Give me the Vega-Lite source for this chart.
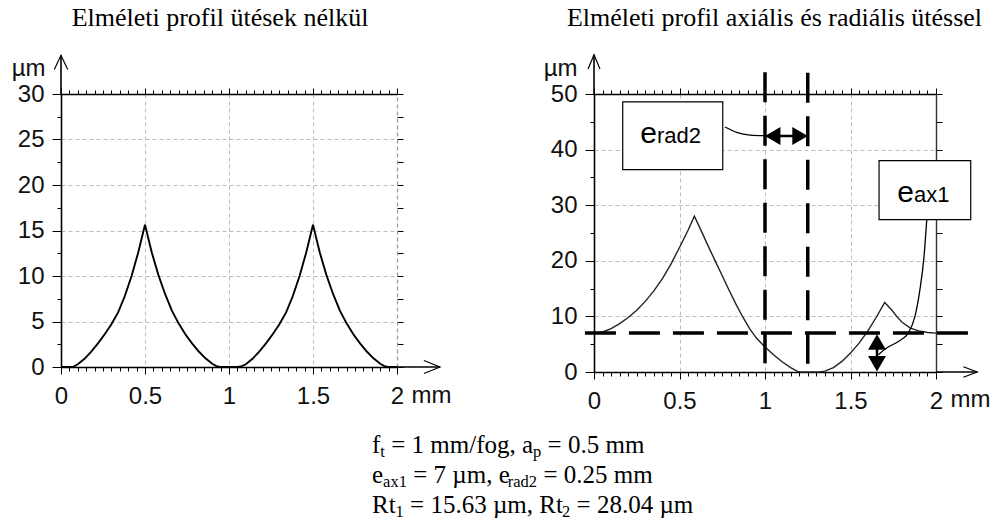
{
  "$schema": "https://vega.github.io/schema/vega-lite/v6.json",
  "background": "white",
  "padding": {"left": 11, "top": 4, "right": 0, "bottom": 0},
  "spacing": 20,
  "config": {
    "view": {"stroke": null},
    "axis": {
      "labelFont": "Liberation Sans", "labelFontSize": 24, "labelColor": "#111",
      "labelFlush": false, "labelOverlap": false,
      "tickColor": "#000", "tickWidth": 1, "domainColor": "#000",
      "titleFont": "Liberation Sans", "titleFontSize": 24, "titleFontWeight": "normal", "titleColor": "#111",
      "grid": false
    }
  },
  "vconcat": [
    {
      "hconcat": [
        {
          "width": 336, "height": 273,
          "layer": [
            {
              "data": {"values": [
                {"x":0,"y":0},{"x":0.07,"y":0},{"x":0.1,"y":0.3},{"x":0.14,"y":0.9},{"x":0.18,"y":1.7},{"x":0.22,"y":2.6},{"x":0.26,"y":3.6},{"x":0.3,"y":4.7},{"x":0.34,"y":6.0},{"x":0.38,"y":7.8},{"x":0.42,"y":10.0},{"x":0.46,"y":12.6},{"x":0.5,"y":15.63},{"x":0.54,"y":12.6},{"x":0.58,"y":10.1},{"x":0.62,"y":8.0},{"x":0.66,"y":6.2},{"x":0.7,"y":4.8},{"x":0.74,"y":3.6},{"x":0.78,"y":2.6},{"x":0.82,"y":1.7},{"x":0.86,"y":0.95},{"x":0.9,"y":0.35},{"x":0.93,"y":0.05},{"x":0.95,"y":0},
                {"x":1.05,"y":0},{"x":1.07,"y":0.05},{"x":1.1,"y":0.3},{"x":1.14,"y":0.9},{"x":1.18,"y":1.7},{"x":1.22,"y":2.6},{"x":1.26,"y":3.6},{"x":1.3,"y":4.7},{"x":1.34,"y":6.0},{"x":1.38,"y":7.8},{"x":1.42,"y":10.0},{"x":1.46,"y":12.6},{"x":1.5,"y":15.63},{"x":1.54,"y":12.6},{"x":1.58,"y":10.1},{"x":1.62,"y":8.0},{"x":1.66,"y":6.2},{"x":1.7,"y":4.8},{"x":1.74,"y":3.6},{"x":1.78,"y":2.6},{"x":1.82,"y":1.7},{"x":1.86,"y":0.95},{"x":1.9,"y":0.35},{"x":1.93,"y":0.05},{"x":1.95,"y":0},{"x":2,"y":0}
              ]},
              "mark": {"type": "line", "color": "#000", "strokeWidth": 1.9},
              "encoding": {
                "x": {"field": "x", "type": "quantitative", "scale": {"domain": [0, 2], "nice": false, "zero": false},
                  "axis": {"orient": "bottom", "values": [0,0.05,0.1,0.15,0.2,0.25,0.3,0.35,0.4,0.45,0.5,0.55,0.6,0.65,0.7,0.75,0.8,0.85,0.9,0.95,1,1.05,1.1,1.15,1.2,1.25,1.3,1.35,1.4,1.45,1.5,1.55,1.6,1.65,1.7,1.75,1.8,1.85,1.9,1.95,2],
                    "format": "~g", "labelExpr": "abs(datum.value*2-round(datum.value*2))<0.001 ? datum.label : ''", "labelPadding": 10,
                    "tickSize": {"condition": {"test": "abs(datum.value*2-round(datum.value*2))<0.001", "value": 7}, "value": 4},
                    "domainWidth": 1.6, "grid": true, "gridColor": "#bdbdbd", "gridDash": [4, 3],
                    "gridOpacity": {"condition": {"test": "abs(datum.value*2-round(datum.value*2))<0.001 && datum.value>0.01 && datum.value<1.99", "value": 1}, "value": 0},
                    "title": "mm", "titleAlign": "left", "titleBaseline": "alphabetic", "titleX": 350, "titleY": 35}},
                "y": {"field": "y", "type": "quantitative", "scale": {"domain": [0, 30], "nice": false, "zero": false},
                  "axis": {"orient": "left", "values": [0,2.5,5,7.5,10,12.5,15,17.5,20,22.5,25,27.5,30],
                    "format": "~g", "labelExpr": "datum.value % 5 == 0 ? datum.label : ''", "labelPadding": 8,
                    "tickSize": {"condition": {"test": "datum.value % 5 == 0", "value": 9}, "value": 4},
                    "domainWidth": 1.6, "grid": true, "gridColor": "#bdbdbd", "gridDash": [4, 3],
                    "gridOpacity": {"condition": {"test": "datum.value % 5 == 0 && datum.value > 0 && datum.value < 30", "value": 1}, "value": 0},
                    "title": "µm", "titleAngle": 0, "titleAlign": "right", "titleBaseline": "alphabetic", "titleX": -16, "titleY": -18.5}}
              }
            },
            {
              "data": {"values": [{"x":0,"y":30,"x2":0,"y2":34.25},{"x":2,"y":0,"x2":2.256,"y2":0}]},
              "mark": {"type": "rule", "color": "#000", "strokeWidth": 1.6},
              "encoding": {
                "x": {"field": "x", "type": "quantitative", "scale": {"domain": [0, 2], "nice": false, "zero": false},
                  "axis": {"orient": "top", "values": [0,0.05,0.1,0.15,0.2,0.25,0.3,0.35,0.4,0.45,0.5,0.55,0.6,0.65,0.7,0.75,0.8,0.85,0.9,0.95,1,1.05,1.1,1.15,1.2,1.25,1.3,1.35,1.4,1.45,1.5,1.55,1.6,1.65,1.7,1.75,1.8,1.85,1.9,1.95,2],
                    "labels": false, "tickSize": {"condition": {"test": "abs(datum.value*2-round(datum.value*2))<0.001", "value": 6}, "value": 4},
                    "domainWidth": 1.6, "grid": false,
                    "title": "Elméleti profil ütések nélkül", "titleFont": "Liberation Serif", "titleFontSize": 26, "titleColor": "#000",
                    "titleAlign": "center", "titleBaseline": "alphabetic", "titleX": 158.5, "titleY": -68.3}},
                "y": {"field": "y", "type": "quantitative", "scale": {"domain": [0, 30], "nice": false, "zero": false},
                  "axis": {"orient": "right", "values": [0,2.5,5,7.5,10,12.5,15,17.5,20,22.5,25,27.5,30],
                    "labels": false, "tickSize": 6, "domainColor": "#999", "domainDash": [4, 3], "domainWidth": 1.2, "grid": false, "title": null}},
                "x2": {"field": "x2"},
                "y2": {"field": "y2"}
              }
            },
            {
              "data": {"values": [
                {"g":"t","o":1,"x":-0.04,"y":32.7},{"g":"t","o":2,"x":0,"y":34.25},{"g":"t","o":3,"x":0.04,"y":32.7},
                {"g":"r","o":1,"x":2.16,"y":0.71},{"g":"r","o":2,"x":2.256,"y":0},{"g":"r","o":3,"x":2.16,"y":-0.71}
              ]},
              "mark": {"type": "line", "color": "#000", "strokeWidth": 1.2},
              "encoding": {
                "x": {"field": "x", "type": "quantitative", "scale": {"domain": [0, 2], "nice": false, "zero": false}, "axis": null},
                "y": {"field": "y", "type": "quantitative", "scale": {"domain": [0, 30], "nice": false, "zero": false}, "axis": null},
                "detail": {"field": "g"},
                "order": {"field": "o"}
              }
            }
          ],
          "resolve": {"axis": {"x": "independent", "y": "independent"}}
        },
        {
          "width": 342, "height": 278,
          "layer": [
            {
              "data": {"values": [
                {"x":0,"y":7.0},{"x":0.05,"y":7.2},{"x":0.1,"y":7.8},{"x":0.15,"y":8.7},{"x":0.2,"y":9.8},{"x":0.25,"y":11.1},{"x":0.3,"y":12.7},{"x":0.35,"y":14.6},{"x":0.4,"y":16.8},{"x":0.45,"y":19.4},{"x":0.5,"y":22.4},{"x":0.55,"y":25.5},{"x":0.587,"y":28.04},{"x":0.63,"y":25.2},{"x":0.67,"y":22.5},{"x":0.71,"y":19.9},{"x":0.75,"y":17.3},{"x":0.79,"y":14.7},{"x":0.83,"y":12.2},{"x":0.87,"y":9.9},{"x":0.91,"y":7.8},{"x":0.95,"y":6.1},{"x":1.0,"y":4.5},{"x":1.05,"y":3.1},{"x":1.1,"y":1.85},{"x":1.15,"y":0.8},{"x":1.19,"y":0.1},{"x":1.21,"y":0},{"x":1.32,"y":0},{"x":1.35,"y":0.15},{"x":1.4,"y":0.8},{"x":1.45,"y":1.9},{"x":1.5,"y":3.4},{"x":1.55,"y":5.2},{"x":1.6,"y":7.3},{"x":1.65,"y":9.8},{"x":1.7,"y":12.5},{"x":1.74,"y":11.2},{"x":1.77,"y":10.0},{"x":1.8,"y":9.0},{"x":1.85,"y":7.9},{"x":1.9,"y":7.4},{"x":1.95,"y":7.1},{"x":2.0,"y":7.0}
              ]},
              "mark": {"type": "line", "color": "#222", "strokeWidth": 1.4},
              "encoding": {
                "x": {"field": "x", "type": "quantitative", "scale": {"domain": [0, 2], "nice": false, "zero": false},
                  "axis": {"orient": "bottom", "values": [0,0.05,0.1,0.15,0.2,0.25,0.3,0.35,0.4,0.45,0.5,0.55,0.6,0.65,0.7,0.75,0.8,0.85,0.9,0.95,1,1.05,1.1,1.15,1.2,1.25,1.3,1.35,1.4,1.45,1.5,1.55,1.6,1.65,1.7,1.75,1.8,1.85,1.9,1.95,2],
                    "format": "~g", "labelExpr": "abs(datum.value*2-round(datum.value*2))<0.001 ? datum.label : ''", "labelPadding": 10,
                    "tickSize": {"condition": {"test": "abs(datum.value*2-round(datum.value*2))<0.001", "value": 7}, "value": 4},
                    "domainWidth": 1.6, "grid": true, "gridColor": "#bdbdbd", "gridDash": [4, 3],
                    "gridOpacity": {"condition": {"test": "abs(datum.value*2-round(datum.value*2))<0.001 && datum.value>0.01 && datum.value<1.99", "value": 1}, "value": 0},
                    "title": "mm", "titleAlign": "left", "titleBaseline": "alphabetic", "titleX": 356, "titleY": 34.4}},
                "y": {"field": "y", "type": "quantitative", "scale": {"domain": [0, 50], "nice": false, "zero": false},
                  "axis": {"orient": "left", "values": [0,5,10,15,20,25,30,35,40,45,50],
                    "format": "~g", "labelExpr": "datum.value % 10 == 0 ? datum.label : ''", "labelPadding": 8,
                    "tickSize": {"condition": {"test": "datum.value % 10 == 0", "value": 9}, "value": 4},
                    "domainWidth": 1.6, "grid": true, "gridColor": "#bdbdbd", "gridDash": [4, 3],
                    "gridOpacity": {"condition": {"test": "datum.value % 10 == 0 && datum.value > 0 && datum.value < 50", "value": 1}, "value": 0},
                    "title": "µm", "titleAngle": 0, "titleAlign": "right", "titleBaseline": "alphabetic", "titleX": -17, "titleY": -19}}
              }
            },
            {
              "data": {"values": [{"x":0,"y":50,"x2":0,"y2":57.07},{"x":2,"y":0,"x2":2.241,"y2":0}]},
              "mark": {"type": "rule", "color": "#000", "strokeWidth": 1.6},
              "encoding": {
                "x": {"field": "x", "type": "quantitative", "scale": {"domain": [0, 2], "nice": false, "zero": false},
                  "axis": {"orient": "top", "values": [0,0.05,0.1,0.15,0.2,0.25,0.3,0.35,0.4,0.45,0.5,0.55,0.6,0.65,0.7,0.75,0.8,0.85,0.9,0.95,1,1.05,1.1,1.15,1.2,1.25,1.3,1.35,1.4,1.45,1.5,1.55,1.6,1.65,1.7,1.75,1.8,1.85,1.9,1.95,2],
                    "labels": false, "tickSize": {"condition": {"test": "abs(datum.value*2-round(datum.value*2))<0.001", "value": 6}, "value": 4},
                    "domainWidth": 1.6, "grid": false,
                    "title": "Elméleti profil axiális és radiális ütéssel", "titleFont": "Liberation Serif", "titleFontSize": 26, "titleColor": "#000",
                    "titleAlign": "center", "titleBaseline": "alphabetic", "titleX": 180, "titleY": -68.3}},
                "y": {"field": "y", "type": "quantitative", "scale": {"domain": [0, 50], "nice": false, "zero": false},
                  "axis": {"orient": "right", "values": [0,5,10,15,20,25,30,35,40,45,50],
                    "labels": false, "tickSize": 6, "domainColor": "#333", "domainWidth": 1.4, "grid": false, "title": null}},
                "x2": {"field": "x2"},
                "y2": {"field": "y2"}
              }
            },
            {
              "data": {"values": [
                {"g":"t","o":1,"x":-0.035,"y":54.5},{"g":"t","o":2,"x":0,"y":57.07},{"g":"t","o":3,"x":0.035,"y":54.5},
                {"g":"r","o":1,"x":2.16,"y":0.95},{"g":"r","o":2,"x":2.241,"y":0},{"g":"r","o":3,"x":2.16,"y":-0.95}
              ]},
              "mark": {"type": "line", "color": "#000", "strokeWidth": 1.2},
              "encoding": {
                "x": {"field": "x", "type": "quantitative", "scale": {"domain": [0, 2], "nice": false, "zero": false}, "axis": null},
                "y": {"field": "y", "type": "quantitative", "scale": {"domain": [0, 50], "nice": false, "zero": false}, "axis": null},
                "detail": {"field": "g"},
                "order": {"field": "o"}
              }
            },
            {
              "data": {"values": [{"x":-0.053,"x2":2.22,"y":7}]},
              "mark": {"type": "rule", "color": "#000", "strokeWidth": 3.5, "strokeDash": [31, 13]},
              "encoding": {
                "x": {"field": "x", "type": "quantitative", "scale": {"domain": [0, 2], "nice": false, "zero": false}, "axis": null},
                "x2": {"field": "x2"},
                "y": {"field": "y", "type": "quantitative", "scale": {"domain": [0, 50], "nice": false, "zero": false}, "axis": null}
              }
            },
            {
              "data": {"values": [{"x":1,"y":53.9,"y2":-0.8},{"x":1.25,"y":53.8,"y2":-0.8}]},
              "mark": {"type": "rule", "color": "#000", "strokeWidth": 3.5, "strokeDash": [30, 13.5]},
              "encoding": {
                "x": {"field": "x", "type": "quantitative", "scale": {"domain": [0, 2], "nice": false, "zero": false}, "axis": null},
                "y": {"field": "y", "type": "quantitative", "scale": {"domain": [0, 50], "nice": false, "zero": false}, "axis": null},
                "y2": {"field": "y2"}
              }
            },
            {
              "data": {"values": [{"x":1.045,"x2":1.205,"y":42.45,"y2":42.45},{"x":1.655,"x2":1.655,"y":5.4,"y2":1.5}]},
              "mark": {"type": "rule", "color": "#000", "strokeWidth": 2.5},
              "encoding": {
                "x": {"field": "x", "type": "quantitative", "scale": {"domain": [0, 2], "nice": false, "zero": false}, "axis": null},
                "x2": {"field": "x2"},
                "y": {"field": "y", "type": "quantitative", "scale": {"domain": [0, 50], "nice": false, "zero": false}, "axis": null},
                "y2": {"field": "y2"}
              }
            },
            {
              "data": {"values": [
                {"x":1.045,"y":42.45,"s":"triangle-left"},{"x":1.205,"y":42.45,"s":"triangle-right"},
                {"x":1.655,"y":5.4,"s":"triangle-up"},{"x":1.655,"y":1.5,"s":"triangle-down"}
              ]},
              "mark": {"type": "point", "filled": true, "color": "#000", "opacity": 1, "size": 320},
              "encoding": {
                "x": {"field": "x", "type": "quantitative", "scale": {"domain": [0, 2], "nice": false, "zero": false}, "axis": null},
                "y": {"field": "y", "type": "quantitative", "scale": {"domain": [0, 50], "nice": false, "zero": false}, "axis": null},
                "shape": {"field": "s", "type": "nominal", "scale": null, "legend": null}
              }
            },
            {
              "data": {"values": [
                {"g":"rad","x":0.766,"y":44.06},{"g":"rad","x":0.834,"y":43.1},{"g":"rad","x":0.912,"y":42.6},{"g":"rad","x":0.996,"y":42.5},
                {"g":"ax","x":1.663,"y":3.1},{"g":"ax","x":1.711,"y":4.3},{"g":"ax","x":1.78,"y":5.5},{"g":"ax","x":1.838,"y":7.0},{"g":"ax","x":1.877,"y":10.0},{"g":"ax","x":1.906,"y":14.8},{"g":"ax","x":1.93,"y":20.8},{"g":"ax","x":1.946,"y":27.4}
              ]},
              "mark": {"type": "line", "color": "#000", "strokeWidth": 1.3, "interpolate": "monotone"},
              "encoding": {
                "x": {"field": "x", "type": "quantitative", "scale": {"domain": [0, 2], "nice": false, "zero": false}, "axis": null},
                "y": {"field": "y", "type": "quantitative", "scale": {"domain": [0, 50], "nice": false, "zero": false}, "axis": null},
                "detail": {"field": "g"}
              }
            },
            {
              "data": {"values": [
                {"x":0.168,"x2":0.753,"y":36.4,"y2":48.6,"anchor":0.368,"base":41.2,"main":"e","sub":"rad2"},
                {"x":1.667,"x2":2.203,"y":27.4,"y2":38.0,"anchor":1.871,"base":30.6,"main":"e","sub":"ax1"}
              ]},
              "layer": [
                {
                  "mark": {"type": "rect", "fill": "#fff", "stroke": "#000", "strokeWidth": 1.2},
                  "encoding": {
                    "x": {"field": "x", "type": "quantitative", "scale": {"domain": [0, 2], "nice": false, "zero": false}, "axis": null},
                    "x2": {"field": "x2"},
                    "y": {"field": "y", "type": "quantitative", "scale": {"domain": [0, 50], "nice": false, "zero": false}, "axis": null},
                    "y2": {"field": "y2"}
                  }
                },
                {
                  "mark": {"type": "text", "align": "right", "baseline": "alphabetic", "font": "Liberation Sans", "fontSize": 30, "color": "#000"},
                  "encoding": {
                    "x": {"field": "anchor", "type": "quantitative", "scale": {"domain": [0, 2], "nice": false, "zero": false}, "axis": null},
                    "y": {"field": "base", "type": "quantitative", "scale": {"domain": [0, 50], "nice": false, "zero": false}, "axis": null},
                    "text": {"field": "main"}
                  }
                },
                {
                  "mark": {"type": "text", "align": "left", "baseline": "alphabetic", "font": "Liberation Sans", "fontSize": 22, "color": "#000"},
                  "encoding": {
                    "x": {"field": "anchor", "type": "quantitative", "scale": {"domain": [0, 2], "nice": false, "zero": false}, "axis": null},
                    "y": {"field": "base", "type": "quantitative", "scale": {"domain": [0, 50], "nice": false, "zero": false}, "axis": null},
                    "text": {"field": "sub"}
                  }
                }
              ]
            }
          ],
          "resolve": {"axis": {"x": "independent", "y": "independent"}}
        }
      ],
      "spacing": 197,
      "bounds": "flush"
    },
    {
      "width": 700, "height": 90,
      "data": {"values": [
        {"line":1,"x":311,"t":"f","sub":false},
        {"line":1,"x":319.3,"t":"t","sub":true},
        {"line":1,"x":330.2,"t":"= 1 mm/fog, a","sub":false},
        {"line":1,"x":472.0,"t":"p","sub":true},
        {"line":1,"x":486.6,"t":"= 0.5 mm","sub":false},
        {"line":2,"x":311,"t":"e","sub":false},
        {"line":2,"x":322.1,"t":"ax1","sub":true},
        {"line":2,"x":352.2,"t":"= 7 µm, e","sub":false},
        {"line":2,"x":446.8,"t":"rad2","sub":true},
        {"line":2,"x":482.4,"t":"= 0.25 mm","sub":false},
        {"line":3,"x":311,"t":"Rt","sub":false},
        {"line":3,"x":334.6,"t":"1","sub":true},
        {"line":3,"x":349.1,"t":"= 15.63 µm, Rt","sub":false},
        {"line":3,"x":501.1,"t":"2","sub":true},
        {"line":3,"x":515.6,"t":"= 28.04 µm","sub":false}
      ]},
      "layer": [
        {
          "transform": [{"filter": "!datum.sub"}],
          "mark": {"type": "text", "align": "left", "baseline": "alphabetic", "font": "Liberation Serif", "fontSize": 25, "color": "#000"},
          "encoding": {
            "x": {"field": "x", "type": "quantitative", "scale": {"domain": [0, 700], "nice": false, "zero": false}, "axis": null},
            "y": {"field": "line", "type": "quantitative", "scale": {"domain": [0.5, 3.5], "reverse": true, "nice": false, "zero": false}, "axis": null},
            "text": {"field": "t"}
          }
        },
        {
          "transform": [{"filter": "datum.sub"}],
          "mark": {"type": "text", "align": "left", "baseline": "alphabetic", "font": "Liberation Serif", "fontSize": 16.5, "dy": 4, "color": "#000"},
          "encoding": {
            "x": {"field": "x", "type": "quantitative", "scale": {"domain": [0, 700], "nice": false, "zero": false}, "axis": null},
            "y": {"field": "line", "type": "quantitative", "scale": {"domain": [0.5, 3.5], "reverse": true, "nice": false, "zero": false}, "axis": null},
            "text": {"field": "t"}
          }
        }
      ]
    }
  ]
}
